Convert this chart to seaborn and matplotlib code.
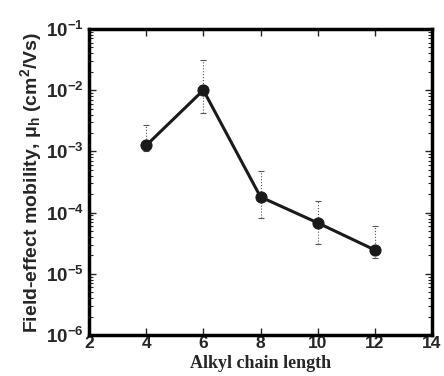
import numpy as np
import pandas as pd
import matplotlib
matplotlib.use("Agg")
import matplotlib.pyplot as plt
import seaborn as sns

chain_length = [4, 6, 8, 10, 12]
mobility = [1.25e-3, 1.0e-2, 1.8e-4, 6.8e-5, 2.45e-5]
err_upper = [2.7e-3, 3.1e-2, 4.8e-4, 1.55e-4, 6.0e-5]
err_lower = [1.0e-3, 4.2e-3, 8.1e-5, 3.1e-5, 1.8e-5]
x_ticks = [2, 4, 6, 8, 10, 12, 14]
y_ticks = [1e-6, 1e-5, 1e-4, 1e-3, 1e-2, 1e-1]
y_ticklabels = [r"$\mathbf{10^{-6}}$", r"$\mathbf{10^{-5}}$", r"$\mathbf{10^{-4}}$",
                r"$\mathbf{10^{-3}}$", r"$\mathbf{10^{-2}}$", r"$\mathbf{10^{-1}}$"]

sns.set_style("ticks")
plt.rcParams['font.family'] = ['Liberation Sans', 'DejaVu Sans']
plt.rcParams['mathtext.fontset'] = 'custom'
plt.rcParams['mathtext.rm'] = 'Liberation Sans'
plt.rcParams['mathtext.bf'] = 'Liberation Sans:bold'
plt.rcParams['mathtext.it'] = 'Liberation Sans:italic'

df = pd.DataFrame({"n": chain_length, "mu": mobility})

fig = plt.figure(figsize=(4.44, 3.76), dpi=100)
ax = fig.add_axes([0.2005, 0.109, 0.7725, 0.814])

mu = np.array(mobility)
yerr = np.vstack([mu - np.array(err_lower), np.array(err_upper) - mu])
ax.errorbar(chain_length, mobility, yerr=yerr, fmt="none", ecolor="#555555",
            elinewidth=0.8, capsize=2.5, capthick=0.8, zorder=1)
for cl in ax.collections:
    cl.set_linestyle(":")

sns.lineplot(data=df, x="n", y="mu", ax=ax, color="#1a1a1a", linewidth=2.2,
             marker="o", markersize=8, markeredgecolor="#1a1a1a", zorder=3)

ax.set_yscale("log")
ax.set_xlim(2, 14)
ax.set_ylim(1e-6, 1e-1)
ax.set_xticks(x_ticks)
ax.set_xticklabels([str(t) for t in x_ticks], fontsize=12.5, fontweight="bold")
ax.set_yticks(y_ticks)
ax.set_yticklabels(y_ticklabels, fontsize=13.5)
ax.tick_params(axis="x", which="major", direction="in", length=5, width=1, pad=1)
ax.tick_params(axis="y", which="major", direction="in", length=5, width=1, pad=4)
ax.tick_params(axis="y", which="minor", direction="in", length=3, width=0.8)
ax.tick_params(top=True, right=True, which="both")
for s in ax.spines.values():
    s.set_linewidth(2.5)
    s.set_color("black")

ax.set_xlabel("Alkyl chain length", fontsize=13, fontweight="bold",
              family=["Liberation Serif"])
ax.xaxis.set_label_coords(0.5, -0.066)
ax.set_ylabel(r"Field-effect mobility, $\mathbf{\mu_h}$ (cm$\mathbf{^2}$/Vs)",
              fontsize=14, fontweight="bold", labelpad=1)

fig.savefig("out.png", dpi=100)
